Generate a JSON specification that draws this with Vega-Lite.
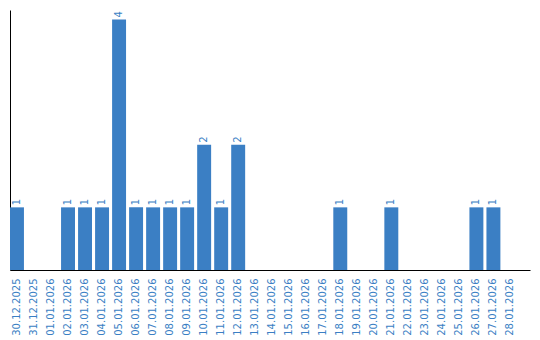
{
  "$schema": "https://vega.github.io/schema/vega-lite/v6.json",
  "width": 520,
  "height": 260,
  "padding": {"left": 10, "top": 10, "right": 10, "bottom": 70},
  "autosize": {"type": "none"},
  "config": {"view": {"stroke": null}, "font": "DejaVu Sans"},
  "data": {"values": [
    {"date": "30.12.2025", "count": 1},
    {"date": "31.12.2025", "count": 0},
    {"date": "01.01.2026", "count": 0},
    {"date": "02.01.2026", "count": 1},
    {"date": "03.01.2026", "count": 1},
    {"date": "04.01.2026", "count": 1},
    {"date": "05.01.2026", "count": 4},
    {"date": "06.01.2026", "count": 1},
    {"date": "07.01.2026", "count": 1},
    {"date": "08.01.2026", "count": 1},
    {"date": "09.01.2026", "count": 1},
    {"date": "10.01.2026", "count": 2},
    {"date": "11.01.2026", "count": 1},
    {"date": "12.01.2026", "count": 2},
    {"date": "13.01.2026", "count": 0},
    {"date": "14.01.2026", "count": 0},
    {"date": "15.01.2026", "count": 0},
    {"date": "16.01.2026", "count": 0},
    {"date": "17.01.2026", "count": 0},
    {"date": "18.01.2026", "count": 1},
    {"date": "19.01.2026", "count": 0},
    {"date": "20.01.2026", "count": 0},
    {"date": "21.01.2026", "count": 1},
    {"date": "22.01.2026", "count": 0},
    {"date": "23.01.2026", "count": 0},
    {"date": "24.01.2026", "count": 0},
    {"date": "25.01.2026", "count": 0},
    {"date": "26.01.2026", "count": 1},
    {"date": "27.01.2026", "count": 1},
    {"date": "28.01.2026", "count": 0}
  ]},
  "encoding": {
    "x": {
      "field": "date", "type": "ordinal", "sort": null,
      "scale": {"paddingInner": 0.18, "paddingOuter": 0.37, "align": 0},
      "axis": {"title": null, "labelAngle": -90, "ticks": false, "domainColor": "black", "labelColor": "#3b7fc4", "labelFontSize": 10, "labelPadding": 8, "labelFont": "DejaVu Sans"}
    },
    "y": {
      "field": "count", "type": "quantitative",
      "scale": {"domain": [0, 4.15], "nice": false},
      "axis": {"title": null, "labels": false, "ticks": false, "grid": false, "domainColor": "black"}
    }
  },
  "layer": [
    {"mark": {"type": "bar", "color": "#3b7fc4"}},
    {
      "transform": [{"filter": "datum.count > 0"}],
      "mark": {"type": "text", "angle": 270, "align": "left", "baseline": "middle", "dx": 2, "color": "#3b7fc4", "fontSize": 10, "font": "DejaVu Sans"},
      "encoding": {"text": {"field": "count", "type": "quantitative"}}
    }
  ]
}
